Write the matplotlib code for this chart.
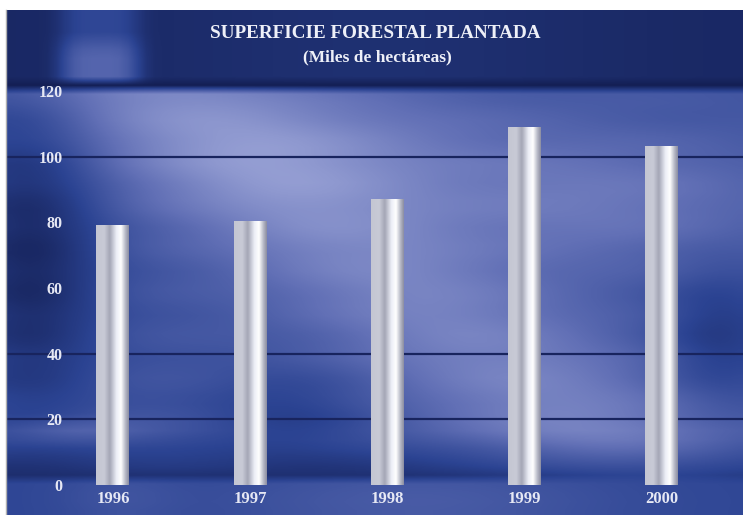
import numpy as np
import matplotlib
matplotlib.use('Agg')
import matplotlib.pyplot as plt
from matplotlib.colors import LinearSegmentedColormap

# ---- data ----
years = ['1996', '1997', '1998', '1999', '2000']
values = [79.3, 80.5, 87.2, 109.1, 103.4]
yticks = [0, 20, 40, 60, 80, 100, 120]
grid_levels = [20, 40, 100]
title = 'SUPERFICIE FORESTAL PLANTADA'
subtitle = '(Miles de hectáreas)'

W, H = 743, 515
fig = plt.figure(figsize=(W / 100, H / 100), dpi=100)
fig.patch.set_facecolor('white')

# ---- decorative background (figure pixel coords, y downward) ----
X0, Y0 = 7, 10
blk = 9
nx = int(np.ceil((W - X0) / blk))
ny = int(np.ceil((H - Y0) / blk))
xs = X0 + (np.arange(nx) + 0.5) * blk
ys = Y0 + (np.arange(ny) + 0.5) * blk
XX, YY = np.meshgrid(xs, ys)

def g(cx, cy, sx, sy):
    return np.exp(-(((XX - cx) / sx) ** 2 + ((YY - cy) / sy) ** 2))

# diagonal light streak
p1 = np.array([150.0, 90.0]); p2 = np.array([640.0, 480.0])
d = p2 - p1; d /= np.hypot(*d)
nvec = np.array([-d[1], d[0]])
dist = (XX - p1[0]) * nvec[0] + (YY - p1[1]) * nvec[1]
L = 0.42 + 0.30 * np.exp(-(dist / 90.0) ** 2)
L += 0.22 * g(600, 205, 180, 65)
L += 0.22 * g(330, 150, 190, 70)
L -= 0.30 * g(30, 260, 75, 170)
L -= 0.18 * g(720, 340, 60, 70)
L -= 0.14 * g(290, 420, 90, 45)
L += 0.16 * g(70, 438, 70, 12)
bot = np.clip((YY - 440) / 45.0, 0, 1)
L = L * (1 - 0.6 * bot)
# faint horizontal banding
L += 0.015 * np.sin(YY / 7.0) * np.cos(XX / 53.0)
# header band
hdr = YY < 84
Lh = 0.11 + 0.40 * np.exp(-((XX - 100) / 40.0) ** 4) * np.clip((YY - 10) / 45, 0.5, 1) \
     + 0.06 * np.exp(-((XX - 380) / 250.0) ** 2)
L = np.where(hdr, Lh, L)
L = np.where((YY >= 84) & (YY < 93), 0.05, L)
# bottom axis band
btm = YY > 487
Lb = 0.32 + 0.14 * g(420, 510, 200, 40) + 0.08 * g(120, 505, 60, 30)
L = np.where(btm, Lb, L)
L = np.clip(L, 0, 1)

bgcmap = LinearSegmentedColormap.from_list('bgblue', [
    (0.00, '#0f1848'), (0.30, '#2b4392'), (0.60, '#6270b6'), (1.00, '#a4acdc')])
bgax = fig.add_axes([X0 / W, 0, 1 - X0 / W, (H - Y0) / H])
bgax.imshow(L, cmap=bgcmap, vmin=0, vmax=1, interpolation='bilinear', aspect='auto')
bgax.set_axis_off()
fig.add_artist(plt.Line2D([6.5 / W, 6.5 / W], [0, (H - Y0) / H], color='#b0b0b0', lw=1))

# ---- main axes ----
left_px, right_px = 7, 743
top_px, base_px = 91, 485
ax = fig.add_axes([left_px / W, (H - base_px) / H, (right_px - left_px) / W, (base_px - top_px) / H])
ax.set_facecolor('none')
xpos = np.arange(len(years))
ax.set_xlim(-0.772, 4.591)
ax.set_ylim(0, 120)

for lv in grid_levels:
    ax.axhline(lv, color='#18245e', lw=1.6, zorder=1)

bars = ax.bar(xpos, values, width=0.24, color='none', edgecolor='none', zorder=3)
bar_cmap = LinearSegmentedColormap.from_list('silver', [
    (0.00, '#c4c6d2'), (0.25, '#c8cad6'), (0.42, '#a4a6b6'), (0.62, '#eceef6'),
    (0.76, '#ffffff'), (0.90, '#b4b6c4'), (1.00, '#8a8ca0')])
grad = np.linspace(0, 1, 256).reshape(1, -1)
for b in bars:
    x0, w, h = b.get_x(), b.get_width(), b.get_height()
    im = ax.imshow(grad, cmap=bar_cmap, extent=[x0, x0 + w, 0, h],
                   aspect='auto', interpolation='bilinear', zorder=3)
    im.set_clip_path(b)

for s in ax.spines.values():
    s.set_visible(False)

serif = ['Liberation Serif', 'DejaVu Serif']
ax.set_yticks(yticks)
ax.set_yticklabels([str(t) for t in yticks], family=serif, fontweight='bold',
                   fontsize=11.5, color='#e6e8f4')
ax.tick_params(axis='y', length=0, pad=-40)
for lab in ax.get_yticklabels():
    lab.set_horizontalalignment('right')
ax.set_xticks(xpos)
ax.set_xticklabels(years, family=serif, fontweight='bold', fontsize=12, color='#e6e8f4')
ax.tick_params(axis='x', length=0, pad=4)

fig.text(375 / W, 1 - 33 / H, title, family=serif, fontweight='bold', fontsize=13.8,
         color='#eef0f8', ha='center', va='center')
fig.text(377 / W, 1 - 57 / H, subtitle, family=serif, fontweight='bold', fontsize=12.5,
         color='#eef0f8', ha='center', va='center')

fig.savefig('out.png', dpi=100, facecolor=fig.get_facecolor())
